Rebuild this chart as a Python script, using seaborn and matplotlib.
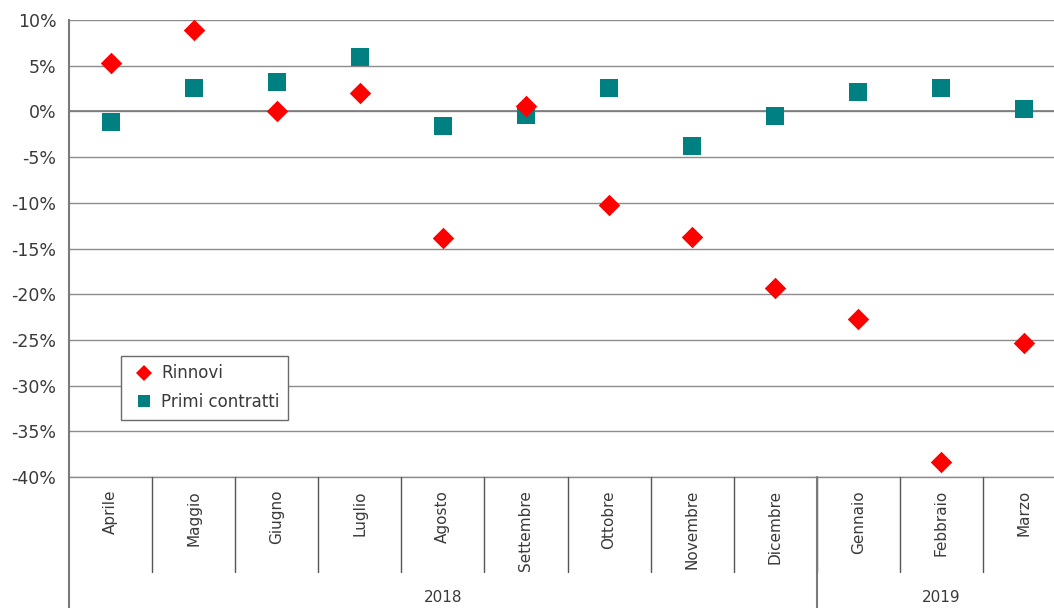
import matplotlib
matplotlib.use("Agg")
import matplotlib.pyplot as plt
import matplotlib.transforms as mtransforms
from matplotlib.lines import Line2D
import seaborn as sns
import pandas as pd

mesi = ["Aprile", "Maggio", "Giugno", "Luglio", "Agosto", "Settembre",
        "Ottobre", "Novembre", "Dicembre", "Gennaio", "Febbraio", "Marzo"]
anni = ["2018", "2019"]
mesi_per_anno = [9, 3]
rinnovi = [5.3, 8.9, 0.0, 2.0, -13.8, 0.6, -10.2, -13.7, -19.3, -22.7, -38.4, -25.3]
primi_contratti = [-1.2, 2.6, 3.2, 5.9, -1.6, -0.4, 2.6, -3.8, -0.5, 2.1, 2.6, 0.3]
y_ticks = [10, 5, 0, -5, -10, -15, -20, -25, -30, -35, -40]

sns.set_style("white")
plt.rcParams["font.family"] = ["DejaVu Sans"]

TEXT = "#3a3a3a"
GRID = "#8c8c8c"
RED = "#ff0000"
TEAL = "#008080"

df = pd.DataFrame({
    "mese": mesi * 2,
    "serie": ["Rinnovi"] * len(mesi) + ["Primi contratti"] * len(mesi),
    "valore": rinnovi + primi_contratti,
})

fig = plt.figure(figsize=(10.54, 6.08), dpi=100)
W, H = 1054, 608
# plot area runs slightly past the right edge of the canvas
x0, x1, ytop, ybot = 69, 1066, 20, 477
ax = fig.add_axes([x0 / W, (H - ybot) / H, (x1 - x0) / W, (ybot - ytop) / H])

sns.scatterplot(data=df[df.serie == "Primi contratti"], x="mese", y="valore",
                marker="s", s=180, color=TEAL, linewidth=0, ax=ax, legend=False, zorder=3)
sns.scatterplot(data=df[df.serie == "Rinnovi"], x="mese", y="valore",
                marker="D", s=120, color=RED, linewidth=0, ax=ax, legend=False, zorder=4)

ax.set_xlim(-0.5, len(mesi) - 0.5)
ax.set_ylim(-40, 10)
ax.set_xlabel("")
ax.set_ylabel("")

# horizontal grid + y axis
ax.set_yticks(y_ticks)
ax.set_yticklabels([f"{v}%" for v in y_ticks], fontsize=12.5, color=TEXT)
ax.yaxis.grid(True, color=GRID, lw=1)
ax.axhline(-40, color=GRID, lw=1, clip_on=False, zorder=1)
ax.tick_params(axis="y", length=5, width=1, color=GRID, direction="out", pad=4)
for side in ["top", "right"]:
    ax.spines[side].set_visible(False)
ax.spines["left"].set_color("#7a7a7a")
ax.spines["left"].set_linewidth(1.5)

# category axis crossing at 0
ax.spines["bottom"].set_position(("data", 0))
ax.spines["bottom"].set_color("#7a7a7a")
ax.spines["bottom"].set_linewidth(1.2)
ax.set_xticks([i + 0.5 for i in range(len(mesi) - 1)])
ax.set_xticklabels([])
ax.tick_params(axis="x", length=5, width=1, color="#555555", direction="out")

# category table below the plot
trans = mtransforms.blended_transform_factory(ax.transData, ax.transAxes)
ph = ybot - ytop
sep_y = -(572 - ybot) / ph
year_y = -(H - ybot) / ph
for i, m in enumerate(mesi):
    ax.text(i, -13 / ph, m, transform=trans, rotation=90, ha="center", va="top",
            fontsize=11, color=TEXT)
for i in range(1, len(mesi)):
    ax.plot([i - 0.5, i - 0.5], [0, sep_y], transform=trans, color="#555555",
            lw=1, clip_on=False)
ax.plot([-0.5, -0.5], [0, year_y], transform=trans, color="#7a7a7a", lw=1.5,
        clip_on=False)
start = 0
for anno, n in zip(anni, mesi_per_anno):
    end = start + n
    ax.text((start + end) / 2 - 0.5, -(597 - ybot) / ph, anno, transform=trans,
            ha="center", va="center", fontsize=11, color=TEXT)
    if end < len(mesi):
        ax.plot([end - 0.5, end - 0.5], [0, year_y], transform=trans,
                color="#7a7a7a", lw=1.5, clip_on=False)
    start = end

handles = [
    Line2D([], [], marker="D", ls="", color=RED, markersize=8, markeredgewidth=0,
           label="Rinnovi"),
    Line2D([], [], marker="s", ls="", color=TEAL, markersize=9, markeredgewidth=0,
           label="Primi contratti"),
]
leg = ax.legend(handles=handles, loc="upper left",
                bbox_to_anchor=((121 - x0) / (x1 - x0), (ybot - 356) / ph),
                fontsize=12, frameon=True, fancybox=False, framealpha=1,
                edgecolor="#6a6a6a", borderpad=0.5, handletextpad=0.1,
                handlelength=1.8, labelspacing=0.65, borderaxespad=0)
leg.get_frame().set_linewidth(1)
for t in leg.get_texts():
    t.set_color(TEXT)

fig.savefig("out.png", dpi=100)
